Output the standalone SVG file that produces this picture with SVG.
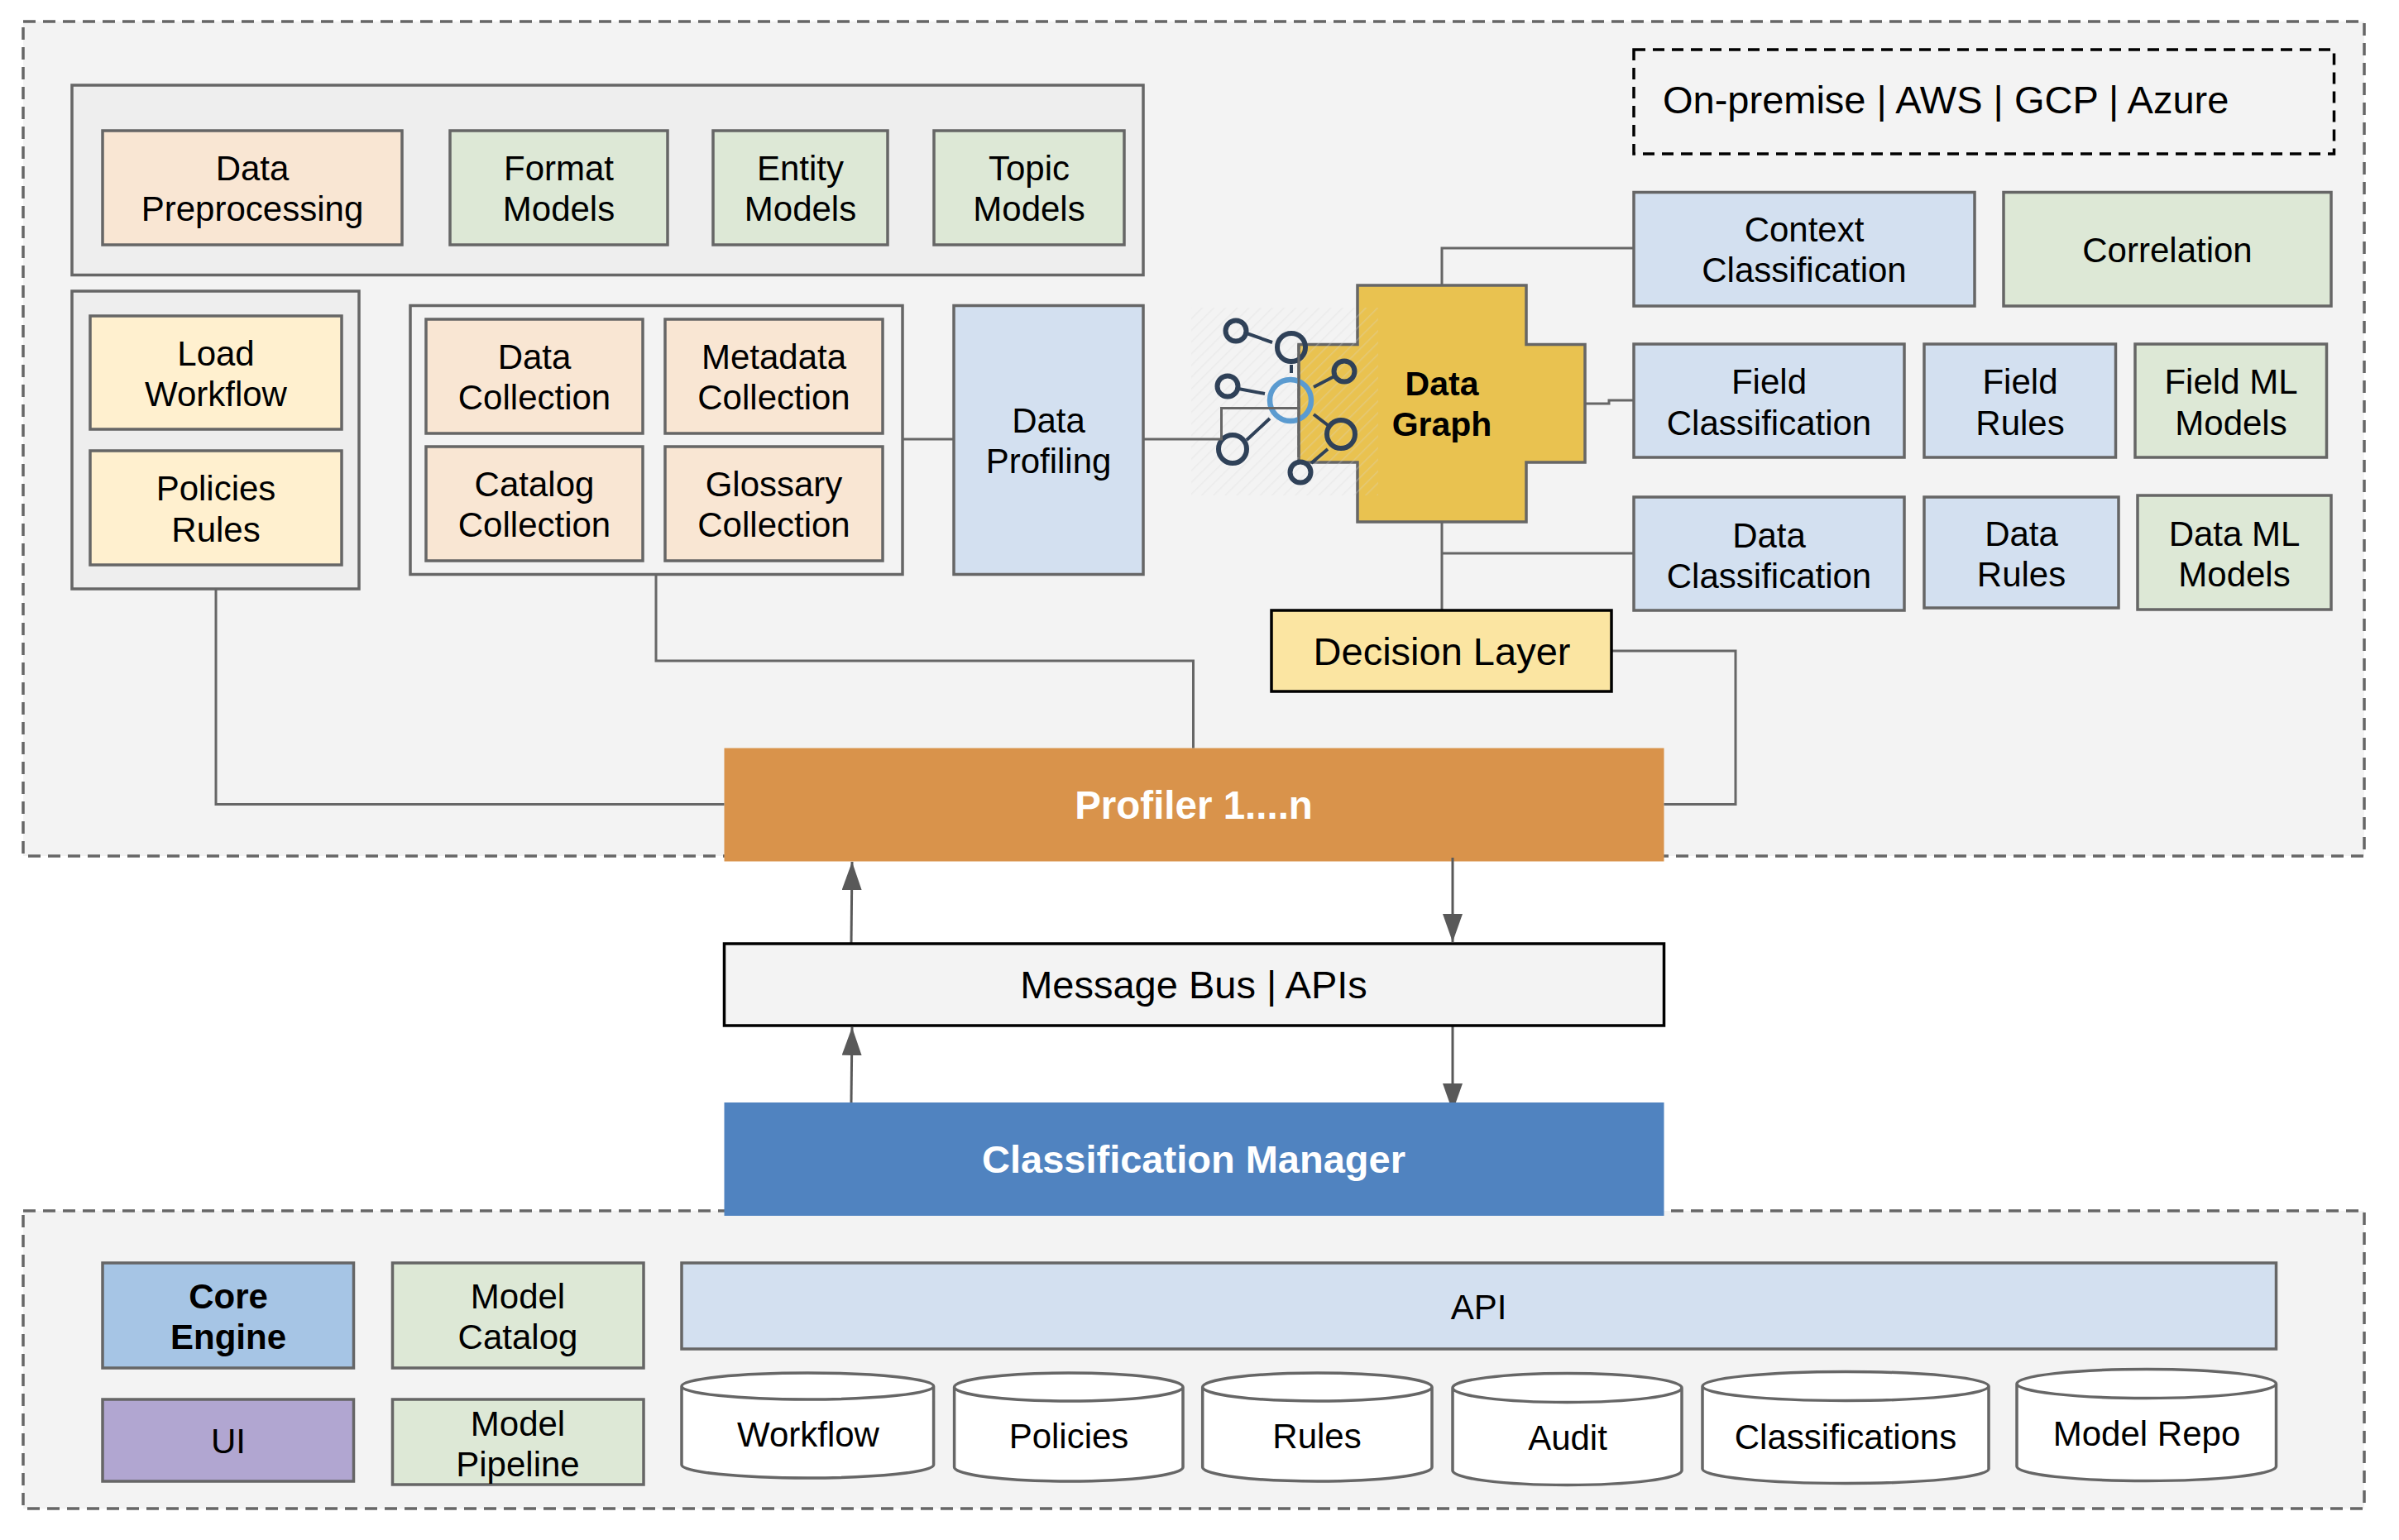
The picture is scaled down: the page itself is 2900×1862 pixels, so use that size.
<svg xmlns="http://www.w3.org/2000/svg" width="2900" height="1862" viewBox="0 0 2900 1862">
<style>
text{font-family:"Liberation Sans",Arial,sans-serif;font-size:42px;fill:#000;text-anchor:middle}
.b{font-weight:700}
.l{font-size:47px}
.w{fill:#fff}
rect,path.s,.cyl{stroke:#666;stroke-width:3.5}
.panel{fill:#f3f3f3;stroke-width:3.5;stroke-dasharray:15 9}
.grp{fill:#eee}
.peach{fill:#f9e6d3}
.green{fill:#dde8d6}
.yellow{fill:#fff0cf}
.blue{fill:#d3e0f0}
.cyl{fill:#fff;stroke-width:3.5}
.k{stroke:#000}
.c{fill:none;stroke:#666;stroke-width:3}
.a{fill:none;stroke:#595959;stroke-width:3;marker-end:url(#arrow)}
.d{fill:none;stroke:#2f4158;stroke-width:6}
.e{fill:none;stroke:#2f4158;stroke-width:4}
</style>
<defs>
<marker id="arrow" markerUnits="userSpaceOnUse" markerWidth="34" markerHeight="24" refX="34" refY="12" viewBox="0 0 34 24" orient="auto"><path d="M0 0L34 12L0 24Z" fill="#595959"/></marker>
<pattern id="hatch" width="10" height="10" patternUnits="userSpaceOnUse" patternTransform="rotate(45)"><path d="M0 0V10" stroke="#d8d8d8" stroke-width="3" opacity=".3"/></pattern>
</defs>
<g id="panels">
<rect id="panel-top" class="panel" x="28" y="26" width="2830" height="1009"/>
<rect id="panel-bottom" class="panel" x="28" y="1464" width="2830" height="360"/>
</g>
<g id="data-graph">
<path class="s" fill="#e9c250" d="M1641 345H1845V416.500H1916V559H1845V631H1641V559H1570V416.500H1641Z"/>
<text class="b" x="1743" y="478" style="font-size:41px">Data</text>
<text class="b" x="1743" y="527" style="font-size:41px">Graph</text>
</g>
<g id="graph-icon">
<rect x="1440" y="372" width="226" height="227" fill="url(#hatch)" style="stroke:none"/>
<circle class="d" cx="1494" cy="400" r="12.500"/>
<circle class="d" cx="1561" cy="420" r="17"/>
<circle class="d" cx="1484" cy="467" r="12.500"/>
<circle class="d" cx="1625" cy="449" r="12.500"/>
<circle class="d" cx="1621" cy="525" r="17"/>
<circle class="d" cx="1490" cy="543" r="17"/>
<circle class="d" cx="1572" cy="571" r="12.500"/>
<circle cx="1560" cy="484" r="25" fill="none" stroke="#5b9bd0" stroke-width="6.500"/>
<path class="e" d="M1507 403L1538 414M1561 441V451M1497 470L1529 476M1588 468L1613 455M1588 501L1605 514M1535 506L1507 532M1605 543L1585 560"/>
<path class="c" d="M1570 416.500V553"/>
</g>
<g id="profiler">
<rect x="875.500" y="904.500" width="1136" height="137" fill="#d9934b" style="stroke:none"/>
<text class="b w" x="1443" y="990" style="font-size:47.500px">Profiler 1....n</text>
</g>
<g id="connectors">
<path class="c" d="M1091 531H1153"/>
<path class="c" d="M1382 531H1476.500V493.500H1572"/>
<path class="c" d="M1743 345V300H1975"/>
<path class="c" d="M1916 488H1945V484H1975"/>
<path class="c" d="M1743 631V738"/>
<path class="c" d="M1743 669H1975"/>
<path class="c" d="M261 712V972.500H875.500"/>
<path class="c" d="M793 694V799H1442.500V904.500"/>
<path class="c" d="M1948 787H2098V972.500H2011.500"/>
<path class="a" d="M1029 1141L1030 1042"/>
<path class="a" d="M1029 1333L1030 1242"/>
<path class="a" d="M1756 1037V1139"/>
<path class="a" d="M1756 1240V1344"/>
</g>
<g id="group-models"><rect class="grp" x="87" y="103" width="1295" height="229.500"/></g>
<g id="group-workflow"><rect class="grp" x="87" y="352" width="347" height="360"/></g>
<g id="group-collection"><rect fill="#f3f3f3" x="496" y="369.500" width="595" height="325"/></g>
<g id="data-preprocessing"><rect class="peach" x="124" y="158" width="362" height="138"/><text x="305" y="218">Data</text><text x="305" y="267">Preprocessing</text></g>
<g id="format-models"><rect class="green" x="544" y="158" width="263" height="138"/><text x="675.500" y="218">Format</text><text x="675.500" y="267">Models</text></g>
<g id="entity-models"><rect class="green" x="862" y="158" width="211" height="138"/><text x="967.500" y="218">Entity</text><text x="967.500" y="267">Models</text></g>
<g id="topic-models"><rect class="green" x="1129" y="158" width="230" height="138"/><text x="1244" y="218">Topic</text><text x="1244" y="267">Models</text></g>
<g id="load-workflow"><rect class="yellow" x="109" y="382" width="304" height="137"/><text x="261" y="441.500">Load</text><text x="261" y="491">Workflow</text></g>
<g id="policies-rules"><rect class="yellow" x="109" y="545" width="304" height="138"/><text x="261" y="605">Policies</text><text x="261" y="655">Rules</text></g>
<g id="data-collection"><rect class="peach" x="515" y="386" width="262" height="138"/><text x="646" y="445.500">Data</text><text x="646" y="495">Collection</text></g>
<g id="metadata-collection"><rect class="peach" x="804" y="386" width="263" height="138"/><text x="935.500" y="445.500">Metadata</text><text x="935.500" y="495">Collection</text></g>
<g id="catalog-collection"><rect class="peach" x="515" y="540" width="262" height="138"/><text x="646" y="600">Catalog</text><text x="646" y="649">Collection</text></g>
<g id="glossary-collection"><rect class="peach" x="804" y="540" width="263" height="138"/><text x="935.500" y="600">Glossary</text><text x="935.500" y="649">Collection</text></g>
<g id="data-profiling"><rect class="blue" x="1153" y="369.500" width="229" height="325"/><text x="1267.500" y="523">Data</text><text x="1267.500" y="572">Profiling</text></g>
<g id="deployment"><rect x="1975" y="60" width="846.500" height="126" fill="none" style="stroke:#000;stroke-dasharray:14 9"/><text class="l" x="2010" y="137" style="text-anchor:start">On-premise | AWS | GCP | Azure</text></g>
<g id="context-classification"><rect class="blue" x="1975" y="232.500" width="412" height="137.500"/><text x="2181" y="292">Context</text><text x="2181" y="341">Classification</text></g>
<g id="correlation"><rect class="green" x="2422" y="232.500" width="396" height="137.500"/><text x="2620" y="317">Correlation</text></g>
<g id="field-classification"><rect class="blue" x="1975" y="416" width="327" height="137"/><text x="2138.500" y="476">Field</text><text x="2138.500" y="526">Classification</text></g>
<g id="field-rules"><rect class="blue" x="2326" y="416" width="231.500" height="137"/><text x="2442" y="476">Field</text><text x="2442" y="526">Rules</text></g>
<g id="field-ml-models"><rect class="green" x="2581" y="416" width="231.500" height="137"/><text x="2697" y="476">Field ML</text><text x="2697" y="526">Models</text></g>
<g id="data-classification"><rect class="blue" x="1975" y="601" width="327" height="137"/><text x="2138.500" y="662">Data</text><text x="2138.500" y="711">Classification</text></g>
<g id="data-rules"><rect class="blue" x="2326" y="601" width="235" height="134"/><text x="2443.500" y="660">Data</text><text x="2443.500" y="709">Rules</text></g>
<g id="data-ml-models"><rect class="green" x="2584" y="599" width="234" height="138"/><text x="2701" y="660">Data ML</text><text x="2701" y="709">Models</text></g>
<g id="decision-layer"><rect class="k" fill="#fbe5a2" x="1537" y="738" width="411" height="98"/><text class="l" x="1743" y="804">Decision Layer</text></g>
<g id="message-bus"><rect class="k" fill="#f3f3f3" x="875.500" y="1141" width="1136" height="99"/><text class="l" x="1443" y="1207">Message Bus | APIs</text></g>
<g id="classification-manager"><rect x="875.500" y="1333" width="1136" height="137" fill="#5083c0" style="stroke:none"/><text class="b l w" x="1443" y="1418">Classification Manager</text></g>
<g id="core-engine"><rect fill="#a6c5e5" x="124" y="1527" width="303.500" height="127"/><text class="b" x="276" y="1582">Core</text><text class="b" x="276" y="1631">Engine</text></g>
<g id="model-catalog"><rect class="green" x="474.500" y="1527" width="303.500" height="127"/><text x="626" y="1582">Model</text><text x="626" y="1631">Catalog</text></g>
<g id="ui"><rect fill="#b1a6d1" x="124" y="1692" width="303.500" height="99"/><text x="276" y="1757">UI</text></g>
<g id="model-pipeline"><rect class="green" x="474.500" y="1692" width="303.500" height="103"/><text x="626" y="1736">Model</text><text x="626" y="1785">Pipeline</text></g>
<g id="api"><rect class="blue" x="824" y="1527" width="1927.500" height="104"/><text x="1787.500" y="1595">API</text></g>
<g id="db-workflow"><path class="cyl" d="M824 1676V1771A152.300 16 0 0 0 1128.600 1771V1676A152.300 16 0 0 0 824 1676A152.300 16 0 0 0 1128.600 1676"/><text x="977" y="1749">Workflow</text></g>
<g id="db-policies"><path class="cyl" d="M1153.600 1677V1774A138.200 17 0 0 0 1430 1774V1677A138.200 17 0 0 0 1153.600 1677A138.200 17 0 0 0 1430 1677"/><text x="1292" y="1751">Policies</text></g>
<g id="db-rules"><path class="cyl" d="M1453.700 1677V1774A138.600 17 0 0 0 1731 1774V1677A138.600 17 0 0 0 1453.700 1677A138.600 17 0 0 0 1731 1677"/><text x="1592" y="1751">Rules</text></g>
<g id="db-audit"><path class="cyl" d="M1756 1678V1778A138.500 17.500 0 0 0 2033 1778V1678A138.500 17.500 0 0 0 1756 1678A138.500 17.500 0 0 0 2033 1678"/><text x="1895" y="1753">Audit</text></g>
<g id="db-classifications"><path class="cyl" d="M2058 1676V1776A173 17.500 0 0 0 2404 1776V1676A173 17.500 0 0 0 2058 1676A173 17.500 0 0 0 2404 1676"/><text x="2231" y="1752">Classifications</text></g>
<g id="db-model-repo"><path class="cyl" d="M2438 1673V1773A156.700 17.500 0 0 0 2751.500 1773V1673A156.700 17.500 0 0 0 2438 1673A156.700 17.500 0 0 0 2751.500 1673"/><text x="2595" y="1748">Model Repo</text></g>
</svg>
